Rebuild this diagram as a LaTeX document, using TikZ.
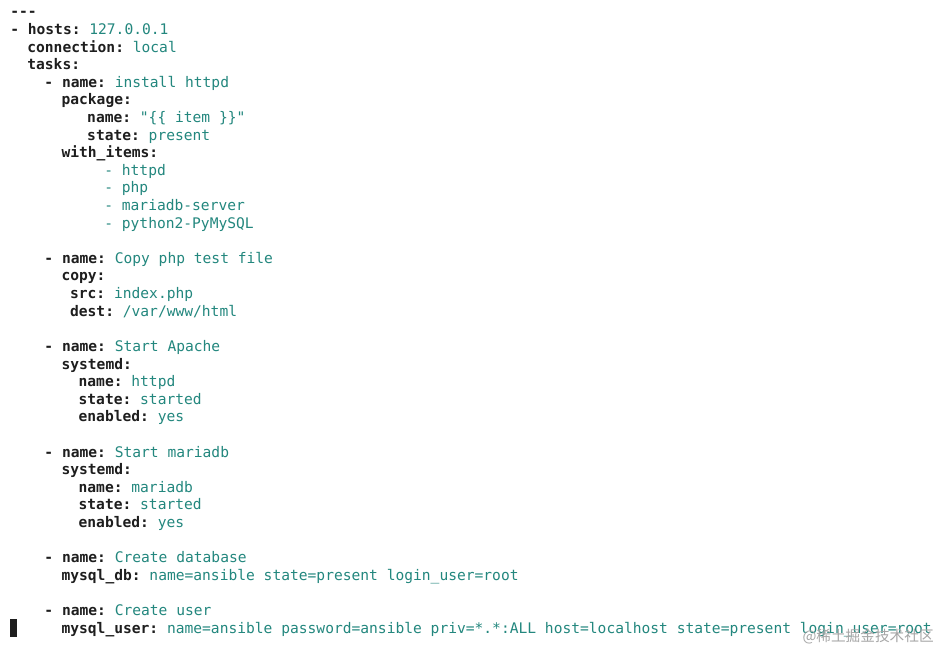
\documentclass[tikz,border=0pt]{standalone}
\usepackage{fontspec}
\setmonofont{DejaVu Sans Mono}
\newfontfamily\cjk{Noto Sans CJK SC}
\definecolor{kc}{HTML}{1E1E1E}
\definecolor{vc}{HTML}{23877E}
\newcommand{\LN}[4]{\node[txt] (n#2) at ({10+8.55*#1},{17+17.6*#2}) {\textcolor{kc}{\bfseries #3}\textcolor{vc}{#4}};}
\begin{document}
\begin{tikzpicture}[x=0.75pt,y=-0.75pt,txt/.style={anchor=base west,inner sep=0pt,font=\ttfamily\fontsize{10.95}{13}\selectfont}]
\useasboundingbox (0,0) rectangle (942,652);
\fill[white] (0,0) rectangle (942,652);
\LN{0}{0}{---}{}
\LN{0}{1}{- hosts: }{127.0.0.1}
\LN{2}{2}{connection: }{local}
\LN{2}{3}{tasks:}{}
\LN{4}{4}{- name: }{install httpd}
\LN{6}{5}{package:}{}
\LN{9}{6}{name: }{"\{\{ item \}\}"}
\LN{9}{7}{state: }{present}
\LN{6}{8}{with\_items:}{}
\LN{11}{9}{}{- httpd}
\LN{11}{10}{}{- php}
\LN{11}{11}{}{- mariadb-server}
\LN{11}{12}{}{- python2-PyMySQL}
\LN{4}{14}{- name: }{Copy php test file}
\LN{6}{15}{copy:}{}
\LN{7}{16}{src: }{index.php}
\LN{7}{17}{dest: }{/var/www/html}
\LN{4}{19}{- name: }{Start Apache}
\LN{6}{20}{systemd:}{}
\LN{8}{21}{name: }{httpd}
\LN{8}{22}{state: }{started}
\LN{8}{23}{enabled: }{yes}
\LN{4}{25}{- name: }{Start mariadb}
\LN{6}{26}{systemd:}{}
\LN{8}{27}{name: }{mariadb}
\LN{8}{28}{state: }{started}
\LN{8}{29}{enabled: }{yes}
\LN{4}{31}{- name: }{Create database}
\LN{6}{32}{mysql\_db: }{name=ansible state=present login\_user=root}
\LN{4}{34}{- name: }{Create user}
\LN{6}{35}{mysql\_user: }{name=ansible password=ansible priv=*.*:ALL host=localhost state=present login\_user=root}
\fill[kc] (10,619) rectangle (17,637);
\node[anchor=base east,inner sep=0pt,text=black!35,font=\cjk\fontsize{11}{13}\selectfont] (wm) at (934,641) {@稀土掘金技术社区};
\end{tikzpicture}
\end{document}
